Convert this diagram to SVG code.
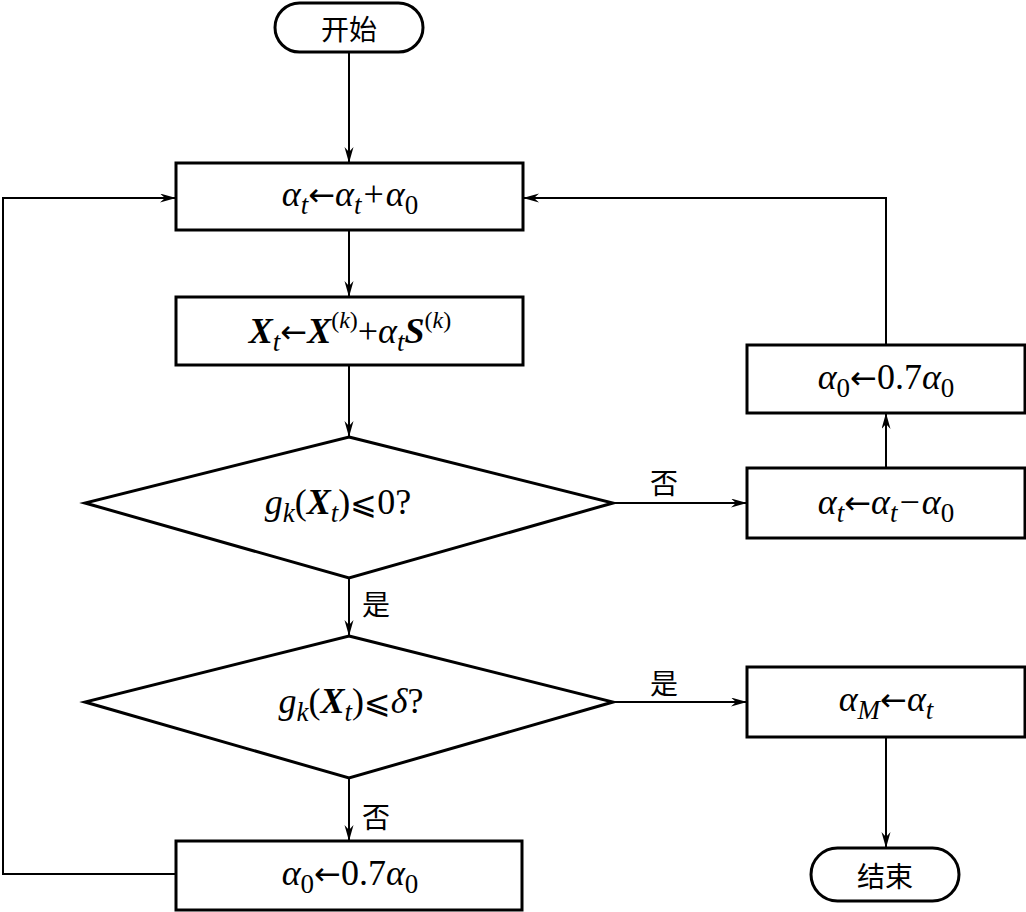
<svg xmlns="http://www.w3.org/2000/svg" width="1026" height="912" viewBox="0 0 1026 912">
<style>
.box{fill:#fff;stroke:#000;stroke-width:3}
.ln{fill:none;stroke:#000;stroke-width:2}
.m{font-family:"Liberation Serif","DejaVu Serif",serif;font-size:36px;fill:#000;text-anchor:middle}
.i{font-style:italic}
.b{font-weight:bold;font-style:italic}
.s{font-size:27px}
.sp{font-size:24px}
.a{font-family:"DejaVu Sans",sans-serif;font-size:32px}
.le{font-family:"DejaVu Sans",sans-serif;font-size:32px}
.cn{font-family:"Noto Sans CJK SC",sans-serif;font-size:28px;fill:#000}
.cnm{text-anchor:middle}
</style>
<defs>
<marker id="ar" markerUnits="userSpaceOnUse" markerWidth="18" markerHeight="10" refX="16" refY="4.5" orient="auto">
<path d="M0,0 L16,4.5 L0,9 L5,4.5 Z" fill="#000"/>
</marker>
</defs>
<rect width="1026" height="912" fill="#fff"/>
<g id="connectors">
<path class="ln" d="M349,52 V163" marker-end="url(#ar)"/>
<path class="ln" d="M349,230 V297" marker-end="url(#ar)"/>
<path class="ln" d="M349,365 V437" marker-end="url(#ar)"/>
<path class="ln" d="M349,578 V636" marker-end="url(#ar)"/>
<path class="ln" d="M349,778 V841" marker-end="url(#ar)"/>
<path class="ln" d="M613,503 H747" marker-end="url(#ar)"/>
<path class="ln" d="M886,468 V413" marker-end="url(#ar)"/>
<path class="ln" d="M886,345 V198 H523" marker-end="url(#ar)"/>
<path class="ln" d="M176,874 H3 V198 H176" marker-end="url(#ar)"/>
<path class="ln" d="M613,702 H747" marker-end="url(#ar)"/>
<path class="ln" d="M886,737 V848" marker-end="url(#ar)"/>
<text class="cn" x="362" y="615">是</text>
<text class="cn" x="362" y="828">否</text>
<text class="cn" x="650" y="494">否</text>
<text class="cn" x="650" y="694">是</text>
</g>
<g id="start">
<rect class="box" x="275" y="3" width="148" height="49" rx="24.5"/>
<text class="cn cnm" x="349" y="40" font-size="29">开始</text>
</g>
<g id="step1">
<rect class="box" x="176" y="163" width="347" height="67"/>
<text class="m" x="350" y="206"><tspan class="i">α</tspan><tspan class="i s" dy="8">t</tspan><tspan class="a" dy="-8">←</tspan><tspan class="i">α</tspan><tspan class="i s" dy="8">t</tspan><tspan dy="-8" dx="2">+</tspan><tspan class="i" dx="2">α</tspan><tspan class="s" dy="8">0</tspan></text>
</g>
<g id="step2">
<rect class="box" x="176" y="297" width="347" height="68"/>
<text class="m" x="350" y="343"><tspan class="b">X</tspan><tspan class="i s" dy="8">t</tspan><tspan class="a" dy="-8">←</tspan><tspan class="b">X</tspan><tspan class="sp" dy="-15">(</tspan><tspan class="i sp">k</tspan><tspan class="sp">)</tspan><tspan dy="15">+</tspan><tspan class="i">α</tspan><tspan class="i s" dy="8">t</tspan><tspan class="b" dy="-8">S</tspan><tspan class="sp" dy="-15">(</tspan><tspan class="i sp">k</tspan><tspan class="sp">)</tspan></text>
</g>
<g id="check1">
<polygon class="box" points="349,437 613,503 349,578 85,503"/>
<text class="m" x="338" y="514"><tspan class="i">g</tspan><tspan class="i s" dy="8">k</tspan><tspan dy="-8">(</tspan><tspan class="b">X</tspan><tspan class="i s" dy="8">t</tspan><tspan dy="-8">)</tspan><tspan class="le">⩽</tspan><tspan>0?</tspan></text>
</g>
<g id="check2">
<polygon class="box" points="349,636 613,702 349,778 85,702"/>
<text class="m" x="351" y="713"><tspan class="i">g</tspan><tspan class="i s" dy="8">k</tspan><tspan dy="-8">(</tspan><tspan class="b">X</tspan><tspan class="i s" dy="8">t</tspan><tspan dy="-8">)</tspan><tspan class="le">⩽</tspan><tspan class="i">δ</tspan><tspan>?</tspan></text>
</g>
<g id="reduce1">
<rect class="box" x="176" y="841" width="346" height="69"/>
<text class="m" x="350" y="885"><tspan class="i">α</tspan><tspan class="s" dy="8">0</tspan><tspan class="a" dy="-8">←</tspan><tspan>0.7</tspan><tspan class="i">α</tspan><tspan class="s" dy="8">0</tspan></text>
</g>
<g id="back">
<rect class="box" x="747" y="468" width="278" height="70"/>
<text class="m" x="886" y="514"><tspan class="i">α</tspan><tspan class="i s" dy="8">t</tspan><tspan class="a" dy="-8">←</tspan><tspan class="i">α</tspan><tspan class="i s" dy="8">t</tspan><tspan dy="-8" dx="2">−</tspan><tspan class="i" dx="2">α</tspan><tspan class="s" dy="8">0</tspan></text>
</g>
<g id="reduce2">
<rect class="box" x="747" y="345" width="278" height="68"/>
<text class="m" x="886" y="389"><tspan class="i">α</tspan><tspan class="s" dy="8">0</tspan><tspan class="a" dy="-8">←</tspan><tspan>0.7</tspan><tspan class="i">α</tspan><tspan class="s" dy="8">0</tspan></text>
</g>
<g id="result">
<rect class="box" x="747" y="667" width="278" height="70"/>
<text class="m" x="886" y="711"><tspan class="i">α</tspan><tspan class="i s" dy="8">M</tspan><tspan class="a" dy="-8">←</tspan><tspan class="i">α</tspan><tspan class="i s" dy="8">t</tspan></text>
</g>
<g id="end">
<rect class="box" x="811" y="848" width="148" height="53" rx="26.5"/>
<text class="cn cnm" x="885" y="887" font-size="29">结束</text>
</g>
</svg>
